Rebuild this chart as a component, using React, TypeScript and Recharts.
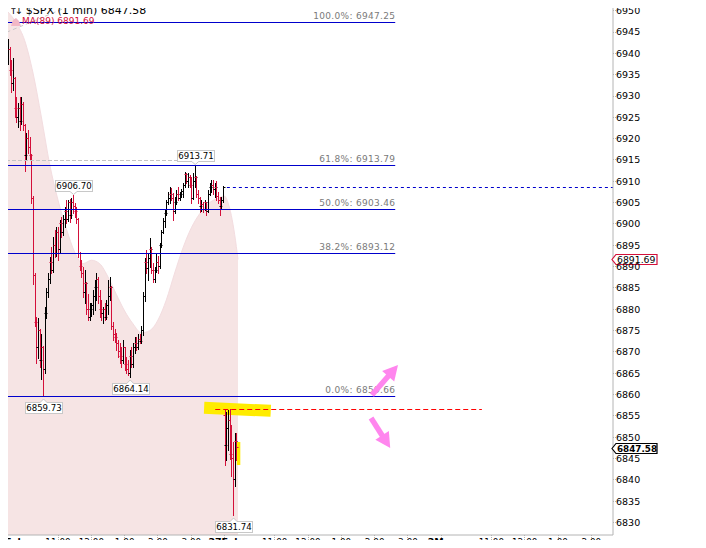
import React from "react";
import {
  ComposedChart,
  Bar,
  Area,
  XAxis,
  YAxis,
  ReferenceLine,
  ReferenceDot,
} from "recharts";

// 3-minute OHLC bars. minute 0 = 26 Feb 9:30, a session is 390 minutes,
// so bar 130 is the first bar of 27 Feb.
const BAR_MINUTES = 3;

const opens = [
  6939, 6941, 6936, 6933, 6934, 6927, 6925, 6927, 6924, 6928,
  6923, 6916, 6920, 6918, 6916, 6906, 6888, 6877, 6871, 6875,
  6868, 6871, 6866, 6879, 6884, 6887, 6891, 6889, 6895, 6893,
  6898, 6894, 6900, 6898, 6901, 6903, 6901, 6905, 6902, 6905,
  6904, 6903, 6901, 6893, 6890, 6888.5, 6884, 6886, 6880, 6878,
  6880, 6881, 6883, 6885, 6887, 6883, 6880, 6879, 6880, 6878,
  6881, 6883, 6885, 6876, 6874, 6873.5, 6872, 6870, 6869, 6868,
  6871, 6867, 6866, 6865, 6869, 6867, 6871, 6872, 6871, 6873,
  6872.5, 6875, 6883, 6891, 6889.5, 6892, 6894, 6889, 6887, 6889,
  6891, 6890, 6895, 6898, 6900.5, 6902.5, 6905, 6906, 6907, 6906,
  6903, 6905, 6907, 6906, 6907, 6907.5, 6909, 6911.5, 6910, 6911,
  6909, 6906, 6910, 6911, 6907, 6906, 6904, 6904.5, 6903.5, 6905,
  6903, 6907, 6908.5, 6909, 6908, 6908.5, 6906.5, 6905.5, 6904, 6905.5,
  6855, 6848, 6852, 6854, 6846, 6845, 6840, 6849,
];
const highs = [
  6943.3, 6941.5, 6938.5, 6939, 6934.5, 6929.8, 6928.4, 6929.8, 6929.8, 6928.5,
  6923.5, 6921.3, 6922, 6920.4, 6916.5, 6906.5, 6888.5, 6878.2, 6878, 6875.5,
  6874.3, 6871.5, 6880.6, 6885, 6888.5, 6892.3, 6894.6, 6897, 6898.6, 6899.3,
  6899.3, 6901, 6901.6, 6902, 6904, 6905.6, 6905.6, 6905.8, 6906, 6906.7,
  6905, 6904, 6901.5, 6893.4, 6891.6, 6890, 6889.2, 6886.5, 6883.7, 6881.5,
  6881.5, 6884.5, 6886.9, 6888.5, 6887.6, 6884.5, 6882.2, 6880.6, 6881.5, 6882.2,
  6886.9, 6887.6, 6885.5, 6877, 6875.3, 6874.5, 6872.8, 6872, 6871.2, 6872.8,
  6871.2, 6868.8, 6868.2, 6870.5, 6871.2, 6872, 6873.5, 6873.5, 6874.3, 6874.3,
  6876, 6884, 6892, 6893.9, 6893, 6896.7, 6894.5, 6890.8, 6890, 6893.2,
  6892.5, 6895.5, 6898.6, 6901.4, 6903.3, 6905.6, 6907.5, 6908.6, 6908.4, 6907.2,
  6906.3, 6908, 6908.6, 6907.5, 6908.1, 6909.6, 6912.2, 6912, 6912, 6911.5,
  6911, 6912, 6913.71, 6911.3, 6908, 6906.3, 6905.6, 6905.2, 6905.6, 6905.2,
  6907.9, 6909.6, 6910.3, 6910.3, 6909.6, 6910, 6907.6, 6906.3, 6906.3, 6909,
  6856.4, 6856, 6856.4, 6856.7, 6852.8, 6849, 6851, 6851,
];
const lows = [
  6937.5, 6935, 6931, 6931.5, 6925, 6923.8, 6922.8, 6922, 6923.5, 6922,
  6912.5, 6915.2, 6916.6, 6915, 6905, 6886, 6876, 6867.5, 6868.5, 6866.5,
  6863.6, 6859.73, 6865, 6878, 6883, 6886.2, 6888.5, 6888.8, 6892.3, 6892.5,
  6891.6, 6893.5, 6897, 6897.5, 6899.3, 6900.3, 6900.8, 6900.5, 6901.4, 6902.5,
  6901.6, 6900.2, 6892.3, 6889.2, 6887.6, 6883, 6881.5, 6879, 6877.5, 6877.5,
  6878.5, 6879, 6879.8, 6882.2, 6881.5, 6878.2, 6877.5, 6876.8, 6877.5, 6877.8,
  6879, 6882.2, 6875.3, 6872.8, 6872.3, 6870.5, 6868.8, 6867.4, 6866.5, 6867.5,
  6865.8, 6865, 6864.6, 6864.14, 6866.5, 6866.5, 6869.8, 6870.5, 6870.8, 6872,
  6872, 6874, 6882, 6888.5, 6886.8, 6890, 6888.5, 6886.4, 6886.5, 6888.8,
  6888.5, 6889.8, 6894.6, 6897.8, 6899.3, 6902, 6904.6, 6904.9, 6905.6, 6901,
  6902.5, 6904.8, 6905.6, 6905.6, 6906.3, 6906.3, 6908.7, 6909.6, 6908.7, 6908.7,
  6905, 6905.8, 6908.7, 6906.3, 6905, 6902.8, 6903, 6902.8, 6903.3, 6902,
  6902.8, 6906.8, 6907.5, 6907, 6906.3, 6905.6, 6905, 6902.2, 6903.7, 6905.2,
  6843.6, 6844.7, 6847, 6845, 6841, 6831.74, 6838.5, 6844.6,
];
const closes = [
  6941, 6936, 6933, 6934, 6927, 6925, 6927, 6924, 6928, 6923,
  6916, 6920, 6918, 6916, 6906, 6888, 6877, 6871, 6875, 6868,
  6871, 6866, 6879, 6884, 6887, 6891, 6889, 6895, 6893, 6898,
  6894, 6900, 6898, 6901, 6903, 6901, 6905, 6902, 6905, 6904,
  6903, 6901, 6893, 6890, 6888.5, 6884, 6886, 6880, 6878, 6880,
  6881, 6883, 6885, 6887, 6883, 6880, 6879, 6880, 6878, 6881,
  6883, 6885, 6876, 6874, 6873.5, 6872, 6870, 6869, 6868, 6871,
  6867, 6866, 6865, 6869, 6867, 6871, 6872, 6871, 6873, 6872.5,
  6875, 6883, 6891, 6889.5, 6892, 6894, 6889, 6887, 6889, 6891,
  6890, 6895, 6898, 6900.5, 6902.5, 6905, 6906, 6907, 6906, 6903,
  6905, 6907, 6906, 6907, 6907.5, 6909, 6911.5, 6910, 6911, 6909,
  6906, 6910, 6911, 6907, 6906, 6904, 6904.5, 6903.5, 6905, 6903,
  6907, 6908.5, 6909, 6908, 6908.5, 6906.5, 6905.5, 6904, 6905.5, 6908.5,
  6848, 6852, 6854, 6846, 6845, 6840, 6849, 6847.58,
];

// MA(89)
const maMinutes = [
  0, 15, 30, 45, 60, 75, 90, 105, 120, 135, 150, 165, 180, 195, 210,
  225, 240, 255, 270, 285, 300, 315, 330, 345, 360, 375, 390, 396, 402, 408, 414,
];
const maValues = [
  6949.7, 6947.1, 6943.0, 6935.4, 6925.1, 6914.0, 6905.6, 6898.9, 6893.4, 6890.7,
  6891.5, 6890.7, 6887.6, 6883.5, 6879.6, 6876.6, 6874.5, 6875.0, 6877.5, 6882.2,
  6888.5, 6894.4, 6899.1, 6902.4, 6904.7, 6905.9, 6906.5, 6905.0, 6902.0, 6897.5,
  6891.69,
];

const fibPcts = ["100.0%", "61.8%", "50.0%", "38.2%", "0.0%"];
const fibValues = [6947.25, 6913.79, 6903.46, 6893.12, 6859.66];

const xTicks = [0, 90, 150, 210, 270, 330, 390, 480, 540, 600, 660, 720, 780, 870, 930, 990, 1050];
const xTickLabels = [
  "26Feb", "11:00", "12:00", "1:00", "2:00", "3:00",
  "27Feb", "11:00", "12:00", "1:00", "2:00", "3:00",
  "2Mar", "11:00", "12:00", "1:00", "2:00",
];
const yTicks = [
  6830, 6835, 6840, 6845, 6850, 6855, 6860, 6865, 6870, 6875, 6880, 6885, 6890,
  6895, 6900, 6905, 6910, 6915, 6920, 6925, 6930, 6935, 6940, 6945, 6950,
];

// swing highs / lows that carry a price tag
const tagBars = [112, 39, 73, 21, 135];
const tagSides = ["high", "high", "low", "low", "low"];

// hand-drawn marks on the chart
const redLevel = 6856.4;
const grayLevel = 6914.8;
const arrowUp = [{ x: 655, y: 6859.9 }, { x: 702, y: 6866.95 }];
const arrowDown = [{ x: 653.5, y: 6854.5 }, { x: 688, y: 6847.5 }];
const highlightWide = [{ x: 353, y: 6856.9 }, { x: 473, y: 6856.2 }];
const highlightSmall = [{ x: 415, y: 6848.9 }, { x: 415, y: 6843.5 }];

const X_DOMAIN = [-14.4, 1089];
const Y_DOMAIN = [6827.1, 6951.8];
const PLOT_BOTTOM = 535;
const FONT = "DejaVu Sans";
const UP = "#000000";
const DOWN = "#d4103a";
const FIB = "#0000cc";

const bars = opens.map((open, i) => ({
  minute: i * BAR_MINUTES + 1,
  open,
  high: highs[i],
  low: lows[i],
  close: closes[i],
  range: [lows[i], highs[i]],
}));
const maData = maMinutes.map((minute, i) => ({ minute, ma: maValues[i] }));
const lastClose = closes[closes.length - 1];
const prevClose = closes[129];
const maLast = maValues[maValues.length - 1];

const snap = (v: number) => Math.round(v - 0.5) + 0.5;

const OhlcShape = (props: any) => {
  const { x, y, width, height, payload } = props;
  if (!payload || x == null) return null;
  const top = Math.min(y, y + height);
  const h = Math.abs(height);
  const { open, close, high, low } = payload;
  const span = high - low || 1;
  const toY = (v: number) => snap(top + ((high - v) / span) * h);
  const cx = snap(x + width / 2);
  const color = close >= open ? UP : DOWN;
  return (
    <g stroke={color} strokeWidth={1}>
      <line x1={cx} x2={cx} y1={Math.round(top)} y2={Math.round(top + h) + 1} />
      <line x1={cx - 2} x2={cx} y1={toY(open)} y2={toY(open)} />
      <line x1={cx} x2={cx + 2} y1={toY(close)} y2={toY(close)} />
    </g>
  );
};

const XTick = (props: any) => {
  const { x, index } = props;
  const label = xTickLabels[index];
  const isDay = label.indexOf(":") < 0;
  const cx = snap(x);
  return (
    <g>
      <line x1={cx} x2={cx} y1={PLOT_BOTTOM} y2={PLOT_BOTTOM + 6} stroke="#b0b0b0" strokeDasharray="1 1" />
      <text
        x={x}
        y={PLOT_BOTTOM + 10}
        textAnchor="middle"
        fontFamily={FONT}
        fontSize={isDay ? 9.5 : 8.8}
        fontWeight={isDay ? "bold" : "normal"}
        fill="#000"
      >
        {label}
      </text>
    </g>
  );
};

const YTick = (props: any) => {
  const { x, y, payload } = props;
  return (
    <g>
      <line x1={x} x2={x + 3} y1={snap(y)} y2={snap(y)} stroke="#b0b0b0" strokeDasharray="1 1" />
      <text x={x + 3} y={y + 3.4} fontFamily={FONT} fontSize={9.5} fill="#000">
        {payload.value}
      </text>
    </g>
  );
};

// crisp horizontal / vertical line for reference lines
const crispLine = (stroke: string, dash?: string, width = 1) => (p: any) => {
  const horizontal = Math.abs(p.y1 - p.y2) < 0.01;
  const vertical = Math.abs(p.x1 - p.x2) < 0.01;
  return (
    <line
      x1={vertical ? snap(p.x1) : p.x1}
      x2={vertical ? snap(p.x2) : p.x2}
      y1={horizontal ? snap(p.y1) : p.y1}
      y2={horizontal ? snap(p.y2) : p.y2}
      stroke={stroke}
      strokeWidth={width}
      strokeDasharray={dash}
    />
  );
};

const fibShape = (label: string) => (p: any) => (
  <g>
    <line x1={p.x1} y1={snap(p.y1)} x2={p.x2} y2={snap(p.y2)} stroke={FIB} strokeWidth={1} />
    <text
      x={p.x2}
      y={snap(p.y2) - 3.5}
      textAnchor="end"
      fontFamily={FONT}
      fontSize={9}
      letterSpacing={0.3}
      fill="#7a7a7a"
    >
      {label}
    </text>
  </g>
);

const arrowShape = (color: string) => (p: any) => {
  const { x1, y1, x2, y2 } = p;
  const dx = x2 - x1;
  const dy = y2 - y1;
  const len = Math.hypot(dx, dy) || 1;
  const ux = dx / len;
  const uy = dy / len;
  const head = 15;
  const half = 8;
  const bx = x2 - ux * head;
  const by = y2 - uy * head;
  return (
    <g>
      <line x1={x1} y1={y1} x2={bx + ux} y2={by + uy} stroke={color} strokeWidth={5.5} />
      <polygon
        points={`${x2},${y2} ${bx - uy * half},${by + ux * half} ${bx + uy * half},${by - ux * half}`}
        fill={color}
      />
    </g>
  );
};

const PriceTag = ({ cx, cy, text, side }: any) => {
  const w = 37;
  const h = 11;
  const isHigh = side === "high";
  const left = Math.round(cx - w / 2) + 0.5;
  const boxTop = Math.round(isHigh ? cy - 4.5 - h : cy + 6) + 0.5;
  const notchBase = isHigh ? boxTop + h : boxTop;
  const notchTip = isHigh ? notchBase + 3 : notchBase - 3.5;
  return (
    <g>
      <rect x={left} y={boxTop} width={w} height={h} fill="#fff" stroke="#c8c8c8" />
      <polygon
        points={`${cx - 3.5},${notchBase} ${cx},${notchTip} ${cx + 3.5},${notchBase}`}
        fill="#fff"
        stroke="#c8c8c8"
      />
      <line x1={cx - 3} x2={cx + 3} y1={notchBase} y2={notchBase} stroke="#fff" />
      <text
        x={left + w / 2}
        y={boxTop + 8.6}
        textAnchor="middle"
        fontFamily={FONT}
        fontSize={8.6}
        fill="#000"
      >
        {text}
      </text>
    </g>
  );
};

const AxisTag = ({ cx, cy, text, color, bold }: any) => {
  const c = Math.round(cy) + 0.5;
  return (
    <g>
      <polygon
        points={`${cx - 1},${c} ${cx + 3},${c - 5} ${cx + 44},${c - 5} ${cx + 44},${c + 5} ${cx + 3},${c + 5}`}
        fill="#fff"
        stroke={color}
        strokeWidth={1.2}
      />
      <text
        x={cx + 4}
        y={c + 3.4}
        fontFamily={FONT}
        fontSize={bold ? 8.8 : 9.3}
        fontWeight={bold ? "bold" : "normal"}
        fill="#000"
      >
        {text}
      </text>
    </g>
  );
};

const App = () => {
  return (
    <div style={{ position: "relative", width: 706, height: 548, margin: -8, fontFamily: FONT }}>
      <ComposedChart
        width={706}
        height={548}
        data={bars}
        margin={{ top: 3, right: 0, bottom: 0, left: 0 }}
      >
        <XAxis
          type="number"
          dataKey="minute"
          domain={X_DOMAIN}
          allowDataOverflow
          ticks={xTicks}
          interval={0}
          height={13}
          tickSize={0}
          tickMargin={0}
          tickLine={false}
          axisLine={{ stroke: "#b4b4b4" }}
          tick={<XTick />}
        />
        <YAxis
          orientation="right"
          type="number"
          domain={Y_DOMAIN}
          allowDataOverflow
          ticks={yTicks}
          interval={0}
          width={93}
          tickSize={0}
          tickMargin={0}
          tickLine={false}
          axisLine={{ stroke: "#b4b4b4" }}
          tick={<YTick />}
        />

        <Area
          data={maData}
          dataKey="ma"
          type="monotone"
          fill="#f6e4e4"
          fillOpacity={1}
          stroke="#f3dde0"
          strokeWidth={1}
          dot={false}
          activeDot={false}
          isAnimationActive={false}
        />

        <ReferenceLine y={Y_DOMAIN[1]} shape={crispLine("#b4b4b4")} />
        <ReferenceLine x={0} shape={crispLine("#b8b8b8")} />
        <ReferenceLine
          segment={[{ x: X_DOMAIN[0], y: 6944.3 }, { x: 124, y: Y_DOMAIN[1] }]}
          stroke="#c8c8c8"
          strokeDasharray="4 3"
          ifOverflow="visible"
        />
        <ReferenceLine
          segment={[{ x: X_DOMAIN[0], y: grayLevel }, { x: 331, y: grayLevel }]}
          ifOverflow="visible"
          shape={crispLine("#c4c4c4", "4 2")}
        />
        <ReferenceLine
          segment={highlightWide}
          stroke="#ffec00"
          strokeWidth={12}
          ifOverflow="visible"
          zIndex={150}
        />
        <ReferenceLine
          segment={highlightSmall}
          stroke="#ffec00"
          strokeWidth={3.5}
          ifOverflow="visible"
          zIndex={150}
        />

        <Bar dataKey="range" barSize={2} shape={<OhlcShape />} isAnimationActive={false} />

        {fibValues.map((v, i) => (
          <ReferenceLine
            key={fibPcts[i]}
            segment={[{ x: X_DOMAIN[0], y: v }, { x: 697, y: v }]}
            ifOverflow="visible"
            shape={fibShape(`${fibPcts[i]}: ${v.toFixed(2)}`)}
          />
        ))}

        <ReferenceLine
          segment={[{ x: 394, y: prevClose }, { x: X_DOMAIN[1], y: prevClose }]}
          ifOverflow="visible"
          shape={crispLine(FIB, "3 3")}
        />
        <ReferenceLine
          segment={[{ x: 373, y: redLevel }, { x: 853, y: redLevel }]}
          ifOverflow="visible"
          shape={crispLine("#ff0000", "5 3")}
        />
        <ReferenceLine segment={arrowUp} ifOverflow="visible" shape={arrowShape("#ff86ee")} />
        <ReferenceLine segment={arrowDown} ifOverflow="visible" shape={arrowShape("#ff86ee")} />

        {tagBars.map((b, i) => {
          const v = tagSides[i] === "high" ? highs[b] : lows[b];
          return (
            <ReferenceDot
              key={`tag-${b}`}
              x={bars[b].minute}
              y={v}
              r={0}
              ifOverflow="visible"
              shape={(p: any) => (
                <PriceTag cx={p.cx} cy={p.cy} text={v.toFixed(2)} side={tagSides[i]} />
              )}
            />
          );
        })}

        <ReferenceDot
          x={X_DOMAIN[1]}
          y={maLast}
          r={0}
          ifOverflow="visible"
          shape={(p: any) => (
            <AxisTag cx={p.cx} cy={p.cy} text={maLast.toFixed(2)} color="#d4103a" />
          )}
        />
        <ReferenceDot
          x={X_DOMAIN[1]}
          y={lastClose}
          r={0}
          ifOverflow="visible"
          shape={(p: any) => (
            <AxisTag cx={p.cx} cy={p.cy} text={lastClose.toFixed(2)} color="#000" bold />
          )}
        />
      </ComposedChart>

      <div
        style={{
          position: "absolute",
          left: 9,
          top: 4,
          fontSize: 11,
          lineHeight: "13px",
          whiteSpace: "nowrap",
          color: "#000",
        }}
      >
        <span style={{ fontSize: 10, letterSpacing: -3, marginRight: 6 }}>↑↓</span>$SPX (1 min){" "}
        {lastClose.toFixed(2)}
      </div>
      <div
        style={{
          position: "absolute",
          left: 11,
          top: 16,
          fontSize: 9,
          lineHeight: "11px",
          whiteSpace: "nowrap",
          color: "#d4103a",
          display: "flex",
          alignItems: "center",
        }}
      >
        <svg width={10} height={9} style={{ marginRight: 1 }}>
          <polygon points="0,9 2,3 5,1 8,4 10,9" fill="#f2b8c6" />
        </svg>
        MA(89) {maLast.toFixed(2)}
      </div>
    </div>
  );
};

export default App;
